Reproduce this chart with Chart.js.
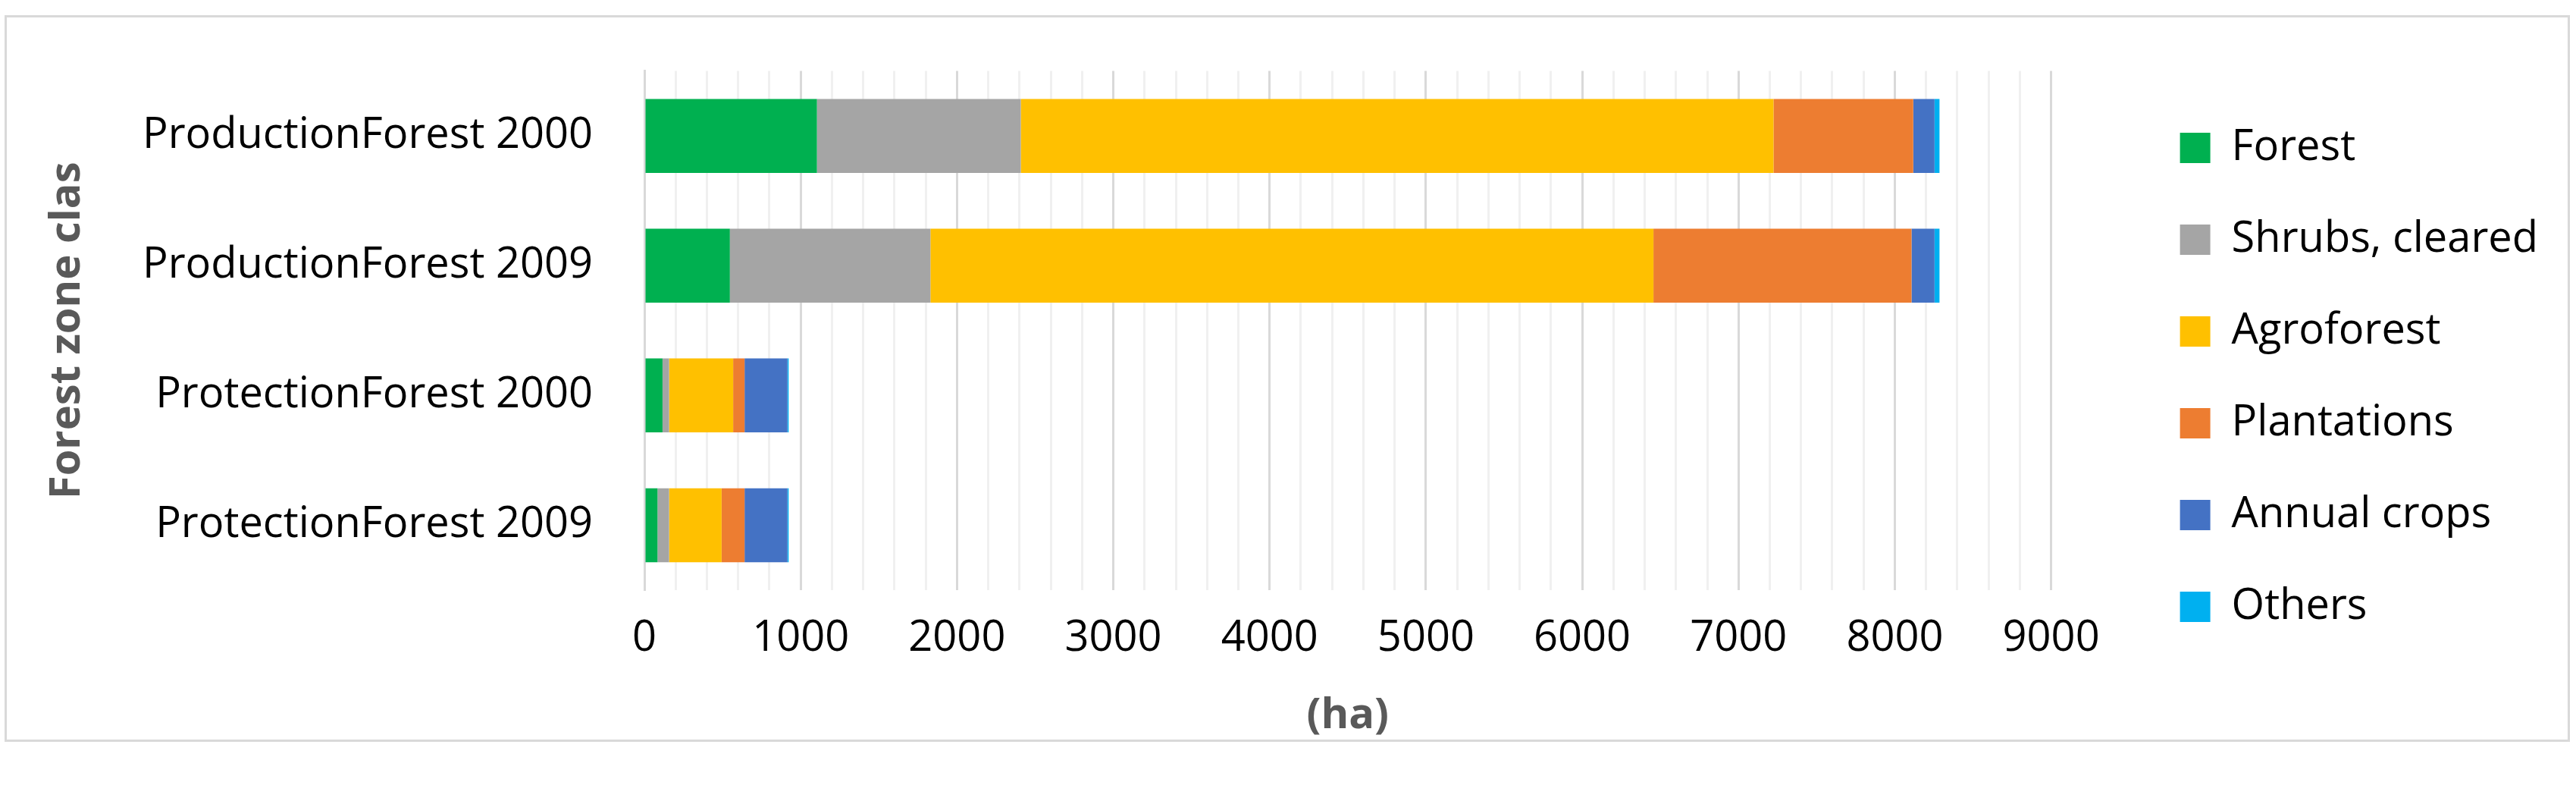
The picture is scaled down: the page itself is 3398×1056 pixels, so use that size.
<!DOCTYPE html>
<html>
<head>
<meta charset="utf-8">
<script src="https://cdn.jsdelivr.net/npm/chart.js@4/dist/chart.umd.min.js"></script>
<style>
  body { margin: 0; background: #fff; }
  #frame { position: absolute; left: 6px; top: 20px; width: 3384px; height: 958px; border: 3px solid #d9d9d9; box-sizing: border-box; }
  #wrap { position: absolute; left: 0; top: 0; width: 3398px; height: 1056px; }
</style>
</head>
<body>
<div id="frame"></div>
<div id="wrap"><canvas id="landChart"></canvas></div>
<script>
// Land cover per forest zone class (ha)
const zones = ['ProductionForest 2000', 'ProductionForest 2009', 'ProtectionForest 2000', 'ProtectionForest 2009'];
const forest      = [1104, 547, 116, 84];
const shrubs      = [1304, 1283, 42, 74];
const agroforest  = [4816, 4626, 410, 336];
const plantations = [894, 1651, 73, 147];
const annualCrops = [136, 147, 274, 274];
const others      = [32, 32, 8, 8];
const seriesNames = ['Forest', 'Shrubs, cleared', 'Agroforest', 'Plantations', 'Annual crops', 'Others'];
const seriesColors = ['#00b050', '#a5a5a5', '#ffc000', '#ed7d31', '#4472c4', '#00b0f0'];

const font = '"Open Sans", "Liberation Sans", sans-serif';
const legendGap = 105;

// push the legend a bit away from the plot, like the original
const legendShift = {
  id: 'legendShift',
  afterInit(chart) {
    const fit = chart.legend.fit;
    chart.legend.fit = function () {
      fit.call(this);
      this.width += legendGap;
    };
  },
  afterLayout(chart) {
    chart.legend.left += legendGap;
    chart.legend.top += 45;
    chart.legend.bottom += 45;
  }
};

function initializeChart() {
  const values = [forest, shrubs, agroforest, plantations, annualCrops, others];
  new Chart(document.getElementById('landChart'), {
    type: 'bar',
    data: {
      labels: zones,
      datasets: values.map((v, i) => ({
        label: seriesNames[i],
        data: v,
        backgroundColor: seriesColors[i],
        borderWidth: 0,
        barPercentage: 0.57,
        categoryPercentage: 1
      }))
    },
    plugins: [legendShift],
    options: {
      indexAxis: 'y',
      responsive: true,
      maintainAspectRatio: false,
      animation: false,
      layout: { padding: { top: 57, bottom: 78, left: 55, right: 40 } },
      plugins: {
        legend: {
          position: 'right',
          align: 'start',
          labels: { boxWidth: 40, boxHeight: 40, padding: 65, color: '#000', font: { size: 56, family: font } }
        },
        tooltip: { enabled: false }
      },
      scales: {
        x: {
          stacked: true,
          min: 0,
          max: 9000,
          afterFit: s => { s.height = 200; },
          ticks: {
            stepSize: 200,
            autoSkip: false,
            maxRotation: 0,
            padding: 30,
            color: '#000',
            font: { size: 56, family: font },
            callback: v => (v % 1000 === 0 ? v : '')
          },
          grid: {
            color: ctx => (ctx.tick && ctx.tick.value % 1000 === 0 ? '#d9d9d9' : '#f0f0f0'),
            lineWidth: 3,
            drawTicks: false
          },
          border: { display: false },
          title: { display: true, text: '(ha)', color: '#595959', padding: 0, font: { size: 56, weight: 'bold', family: font } }
        },
        y: {
          stacked: true,
          afterFit: s => { s.width = 795; },
          ticks: { color: '#000', padding: 60, font: { size: 56, family: font } },
          grid: { display: false },
          border: { color: '#d9d9d9', width: 3 },
          title: { display: true, text: 'Forest zone clas', color: '#595959', padding: 0, font: { size: 56, weight: 'bold', family: font } }
        }
      }
    }
  });
}

document.addEventListener('DOMContentLoaded', initializeChart);
</script>
</body>
</html>
